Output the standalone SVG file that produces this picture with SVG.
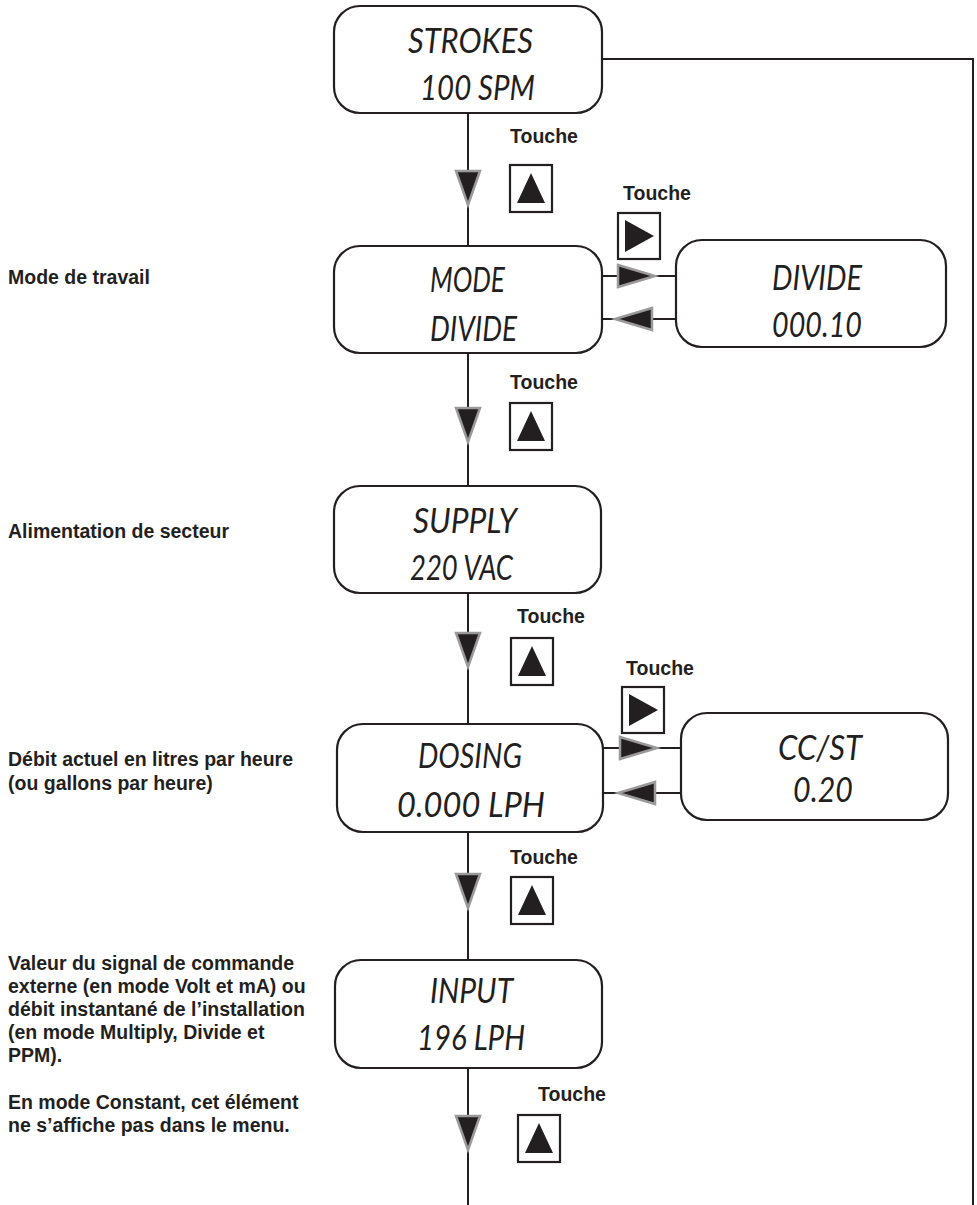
<svg xmlns="http://www.w3.org/2000/svg" width="977" height="1205" viewBox="0 0 977 1205">
  <defs>
    <style>
      .bg { fill: #ffffff; }
      .box { fill: #ffffff; stroke: #231f20; stroke-width: 2.2; }
      .lcd { font-family: "Lato", "DejaVu Sans", sans-serif; font-style: italic; font-weight: 400; font-size: 34px; fill: #231f20; }
      .lbl { font-family: "Liberation Sans", Arial, sans-serif; font-weight: bold; font-size: 19.5px; fill: #231f20; }
      .wire { fill: none; stroke: #231f20; stroke-width: 2; }
      .flow { fill: #231f20; stroke: #9a9a9a; stroke-width: 2.5; stroke-linejoin: miter; }
      .key { fill: #ffffff; stroke: #231f20; stroke-width: 2.2; }
      .keyglyph { fill: #231f20; }
    </style>
    <!-- key glyphs: up key and right key, 42x47 -->
    <g id="keyUp">
      <rect class="key" x="0" y="0" width="42" height="47"/>
      <polygon class="keyglyph" points="21,8 35,38 7,38"/>
    </g>
    <g id="keyRight">
      <rect class="key" x="0" y="0" width="42" height="46"/>
      <polygon class="keyglyph" points="7,7 36,23 7,39"/>
    </g>
    <!-- flow arrowheads -->
    <polygon id="arrowDown" class="flow" points="-12,0 12,0 0,34"/>
    <polygon id="arrowRight" class="flow" points="0,-11 37,0 0,11"/>
    <polygon id="arrowLeft" class="flow" points="0,-11 -37,0 0,11"/>
  </defs>

  <rect class="bg" x="0" y="0" width="977" height="1205"/>

  <!-- connectors -->
  <g id="connectors">
    <line class="wire" x1="468" y1="113" x2="468" y2="246"/>
    <line class="wire" x1="468" y1="353" x2="468" y2="486"/>
    <line class="wire" x1="468" y1="593" x2="468" y2="724"/>
    <line class="wire" x1="468" y1="832" x2="468" y2="960"/>
    <line class="wire" x1="468" y1="1068" x2="468" y2="1205"/>
    <polyline class="wire" points="602,59 973,59 973,1205"/>
    <line class="wire" x1="602" y1="276" x2="676" y2="276"/>
    <line class="wire" x1="602" y1="319" x2="676" y2="319"/>
    <line class="wire" x1="603" y1="748" x2="681" y2="748"/>
    <line class="wire" x1="603" y1="793" x2="681" y2="793"/>

    <use href="#arrowDown" x="468" y="171"/>
    <use href="#arrowDown" x="468" y="408"/>
    <use href="#arrowDown" x="468" y="633"/>
    <use href="#arrowDown" x="468" y="874"/>
    <use href="#arrowDown" x="468" y="1116"/>

    <use href="#arrowRight" x="618" y="276"/>
    <use href="#arrowLeft" x="652" y="319"/>
    <use href="#arrowRight" x="620" y="748"/>
    <use href="#arrowLeft" x="655" y="793"/>
  </g>

  <!-- key hints -->
  <g id="keys">
    <text class="lbl" x="510" y="143">Touche</text>
    <use href="#keyUp" x="510" y="165"/>
    <text class="lbl" x="623" y="200">Touche</text>
    <use href="#keyRight" x="618" y="213"/>
    <text class="lbl" x="510" y="389">Touche</text>
    <use href="#keyUp" x="510" y="403"/>
    <text class="lbl" x="517" y="623">Touche</text>
    <use href="#keyUp" x="511" y="638"/>
    <text class="lbl" x="626" y="675">Touche</text>
    <use href="#keyRight" x="622" y="687"/>
    <text class="lbl" x="510" y="864">Touche</text>
    <use href="#keyUp" x="511" y="877"/>
    <text class="lbl" x="538" y="1101">Touche</text>
    <use href="#keyUp" x="518" y="1115"/>
  </g>

  <!-- display nodes -->
  <g id="node-strokes">
    <rect class="box" x="334" y="6" width="268" height="107" rx="26"/>
    <text class="lcd" x="408" y="53" textLength="125" lengthAdjust="spacingAndGlyphs">STROKES</text>
    <text class="lcd" x="420" y="100" textLength="115" lengthAdjust="spacingAndGlyphs">100 SPM</text>
  </g>
  <g id="node-mode">
    <rect class="box" x="334" y="246" width="268" height="107" rx="26"/>
    <text class="lcd" x="430" y="292" textLength="75" lengthAdjust="spacingAndGlyphs">MODE</text>
    <text class="lcd" x="430" y="341" textLength="87" lengthAdjust="spacingAndGlyphs">DIVIDE</text>
  </g>
  <g id="node-divide">
    <rect class="box" x="676" y="240" width="270" height="107" rx="26"/>
    <text class="lcd" x="772" y="290" textLength="90" lengthAdjust="spacingAndGlyphs">DIVIDE</text>
    <text class="lcd" x="772" y="337" textLength="90" lengthAdjust="spacingAndGlyphs">000.10</text>
  </g>
  <g id="node-supply">
    <rect class="box" x="334" y="486" width="267" height="107" rx="26"/>
    <text class="lcd" x="413" y="533" textLength="104" lengthAdjust="spacingAndGlyphs">SUPPLY</text>
    <text class="lcd" x="410" y="580" textLength="103" lengthAdjust="spacingAndGlyphs">220 VAC</text>
  </g>
  <g id="node-dosing">
    <rect class="box" x="337" y="724" width="266" height="108" rx="26"/>
    <text class="lcd" x="418" y="768" textLength="104" lengthAdjust="spacingAndGlyphs">DOSING</text>
    <text class="lcd" x="397" y="817" textLength="148" lengthAdjust="spacingAndGlyphs">0.000 LPH</text>
  </g>
  <g id="node-ccst">
    <rect class="box" x="681" y="713" width="267" height="107" rx="26"/>
    <text class="lcd" x="778" y="760" textLength="84" lengthAdjust="spacingAndGlyphs">CC/ST</text>
    <text class="lcd" x="793" y="802" textLength="60" lengthAdjust="spacingAndGlyphs">0.20</text>
  </g>
  <g id="node-input">
    <rect class="box" x="335" y="960" width="267" height="108" rx="26"/>
    <text class="lcd" x="430" y="1003" textLength="83" lengthAdjust="spacingAndGlyphs">INPUT</text>
    <text class="lcd" x="417" y="1050" textLength="108" lengthAdjust="spacingAndGlyphs">196 LPH</text>
  </g>

  <!-- side descriptions -->
  <g id="notes">
    <text class="lbl" x="8" y="284">Mode de travail</text>
    <text class="lbl" x="8" y="538">Alimentation de secteur</text>
    <text class="lbl" x="8" y="766">Débit actuel en litres par heure</text>
    <text class="lbl" x="8" y="790">(ou gallons par heure)</text>
    <text class="lbl" x="8" y="970">Valeur du signal de commande</text>
    <text class="lbl" x="8" y="993">externe (en mode Volt et mA) ou</text>
    <text class="lbl" x="8" y="1016">débit instantané de l’installation</text>
    <text class="lbl" x="8" y="1039">(en mode Multiply, Divide et</text>
    <text class="lbl" x="8" y="1062">PPM).</text>
    <text class="lbl" x="8" y="1109">En mode Constant, cet élément</text>
    <text class="lbl" x="8" y="1132">ne s’affiche pas dans le menu.</text>
  </g>
</svg>
